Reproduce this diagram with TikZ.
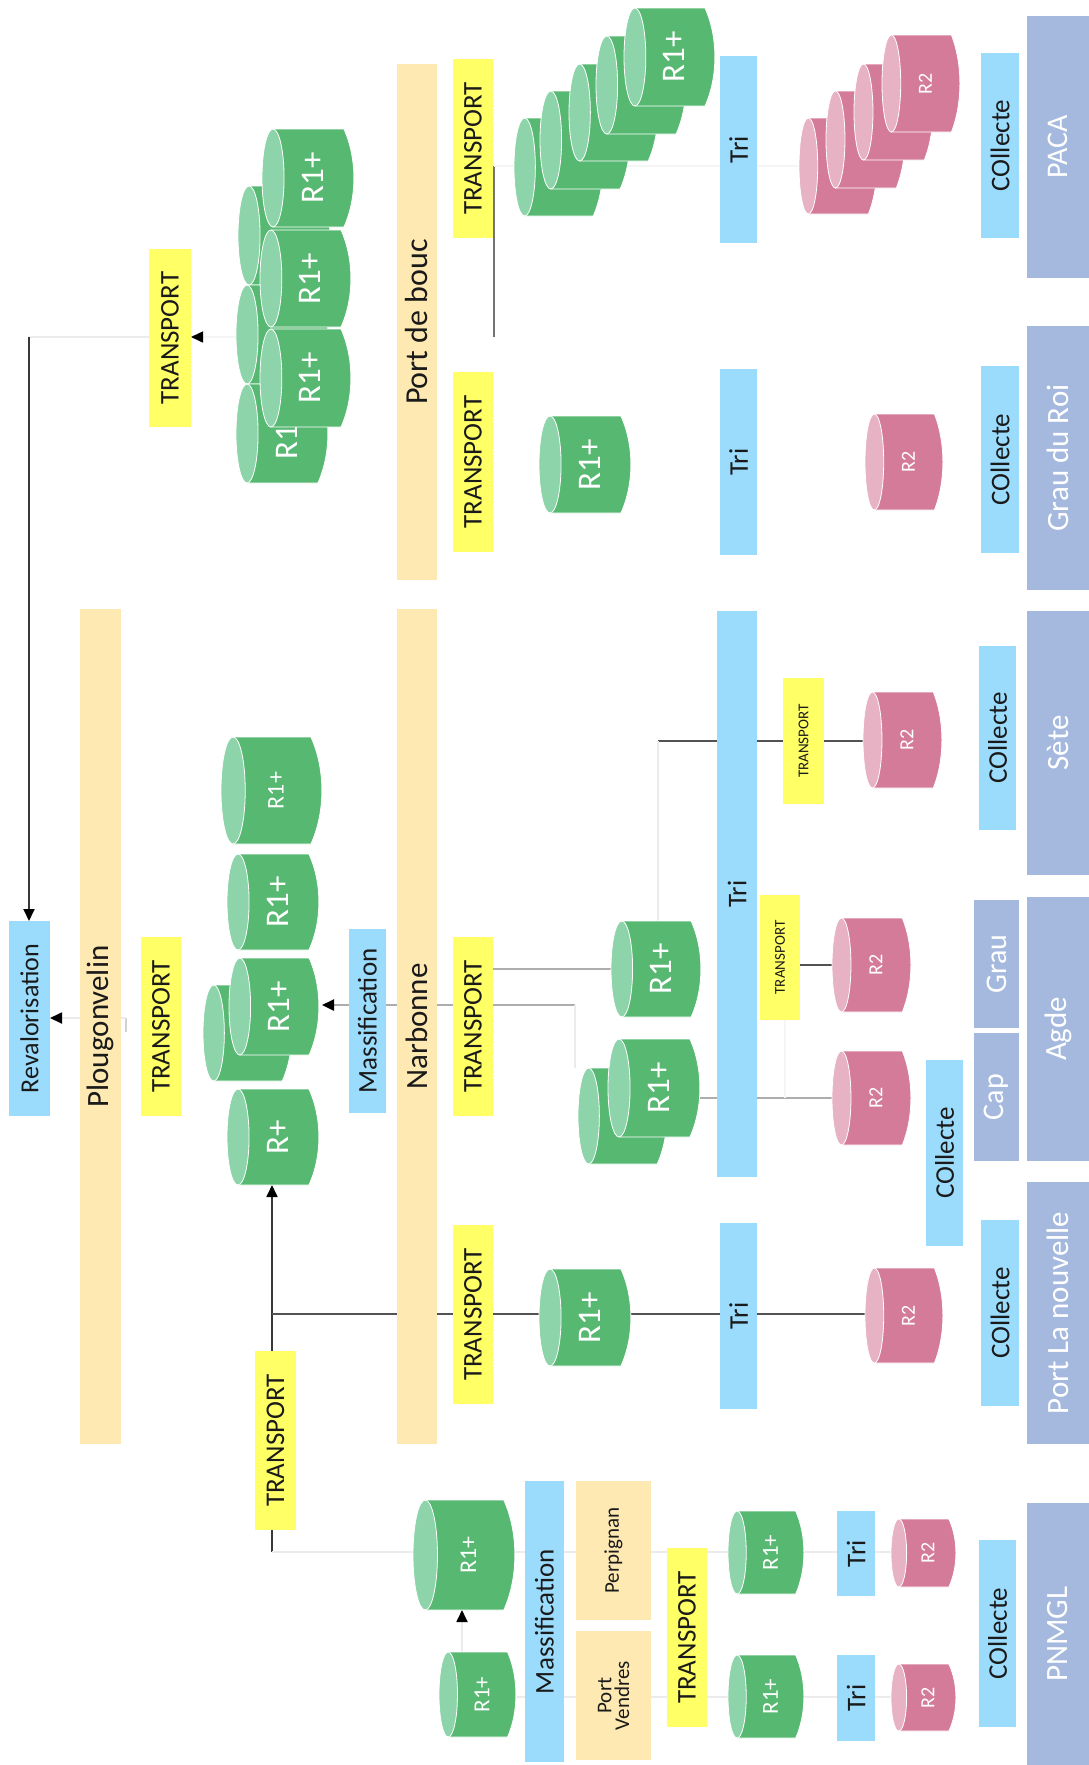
\documentclass[tikz,border=0pt]{standalone}
\usepackage{graphicx}
\usepackage{fontspec}
\setmainfont{Carlito}
\usetikzlibrary{arrows.meta}
\definecolor{gbody}{HTML}{56B871}
\definecolor{glight}{HTML}{8DD4AA}
\definecolor{pbody}{HTML}{D47B9A}
\definecolor{plight}{HTML}{E7B2C4}
\definecolor{blueb}{HTML}{9BDCFD}
\definecolor{yellowb}{HTML}{FFFF66}
\definecolor{creamb}{HTML}{FDE9B1}
\definecolor{slateb}{HTML}{A5B9DE}
\definecolor{txt}{HTML}{1A1A1A}
\pgfdeclarelayer{back}
\pgfsetlayers{back,main}
\tikzset{
  boxbase/.style={draw=none,inner sep=0pt,outer sep=0pt,text=txt},
  yellowbox/.style={boxbase,fill=yellowb},
  bluebox/.style={boxbase,fill=blueb},
  creambox/.style={boxbase,fill=creamb},
  slatebox/.style={boxbase,fill=slateb,text=white},
  cyltext/.style={inner sep=0pt,outer sep=0pt,text=white},
  cylskin/.style={draw=white,line width=0.8pt},
  linedark/.style={draw=black!68,line width=2.8pt},
  linethin/.style={draw=black!78,line width=1.8pt},
  linegrey/.style={draw=black!55,line width=1.3pt},
  linemid/.style={draw=black!32,line width=2.4pt},
  linesoft/.style={draw=black!18,line width=1.5pt},
  linepale/.style={draw=black!8,line width=1.8pt},
  linefaint/.style={draw=black!4,line width=1.5pt},
  headed/.style={-{Triangle[length=12pt,width=11pt,black]}},
}
\newcommand{\bx}[8]{%
  \pgfmathsetmacro\bxc{(#2+#4)/2}%
  \pgfmathsetmacro\byc{(#3+#5)/2}%
  \pgfmathsetmacro\bxw{#4-#2}%
  \pgfmathsetmacro\bxh{#5-#3}%
  \node[#6,minimum width=\bxw pt,minimum height=\bxh pt] (#1) at (\bxc,\byc)
    {\fontsize{#7pt}{#7pt}\selectfont\rotatebox{90}{#8}};%
}
\newcommand{\cyl}[8]{%
  \pgfmathsetmacro\cw{#4-#2}%
  \pgfmathsetmacro\crx{0.12*\cw}%
  \pgfmathsetmacro\ccl{#2+\crx}%
  \pgfmathsetmacro\cb{#4-0.11*\cw}%
  \pgfmathsetmacro\cc{#4+0.035*\cw}%
  \pgfmathsetmacro\cym{(#3+#5)/2}%
  \pgfmathsetmacro\cry{(#5-#3)/2}%
  \pgfmathsetmacro\cq{#3+0.3*(#5-#3)}%
  \pgfmathsetmacro\cr{#3+0.7*(#5-#3)}%
  \pgfmathsetmacro\cmx{(#2+#4)/2}%
  \pgfmathsetmacro\ch{#5-#3}%
  \path[cylskin,fill=#6body] (\ccl,#3) -- (\cb,#3) .. controls (\cc,\cq) and (\cc,\cr) .. (\cb,#5) -- (\ccl,#5) -- cycle;
  \path[cylskin,fill=#6light] (\ccl,\cym) ellipse [x radius=\crx pt,y radius=\cry pt];
  \node[cyltext,minimum width=\cw pt,minimum height=\ch pt] (#1) at (\cmx,\cym)
    {\hspace*{9pt}\fontsize{#7pt}{#7pt}\selectfont\rotatebox{90}{#8}};%
}
\begin{document}
\begin{tikzpicture}[x=1pt,y=-1pt]
\useasboundingbox (0,0) rectangle (1089,1765);
% regions
\bx{paca}{1027}{16}{1089}{278}{slatebox}{30}{PACA}
\bx{gdr}{1027}{326}{1089}{590}{slatebox}{31}{Grau du Roi}
\bx{sete}{1027}{611}{1089}{875}{slatebox}{31}{Sète}
\bx{agde}{1027}{897}{1089}{1161}{slatebox}{31}{Agde}
\bx{pln}{1027}{1182}{1089}{1444}{slatebox}{31}{Port La nouvelle}
\bx{pnmgl}{1027}{1503}{1089}{1765}{slatebox}{31}{PNMGL}
\bx{grau}{974}{900}{1019}{1028}{slatebox}{30}{Grau}
\bx{cap}{974}{1033}{1019}{1161}{slatebox}{30}{Cap}
% collecte
\bx{colpaca}{981}{53}{1019}{238}{bluebox}{27}{COllecte}
\bx{colgdr}{981}{366}{1019}{553}{bluebox}{27}{COllecte}
\bx{colsete}{979}{646}{1016}{830}{bluebox}{27}{COllecte}
\bx{colcap}{926}{1060}{963}{1246}{bluebox}{27}{COllecte}
\bx{colpln}{981}{1220}{1019}{1406}{bluebox}{27}{COllecte}
\bx{colpn}{979}{1540}{1016}{1727}{bluebox}{27}{COllecte}
% tri
\bx{tripaca}{720}{56}{757}{243}{bluebox}{27}{Tri}
\bx{trigdr}{720}{369}{757}{555}{bluebox}{27}{Tri}
\bx{trimain}{717}{611}{757}{1177}{bluebox}{27}{Tri}
\bx{tripln}{720}{1223}{757}{1409}{bluebox}{27}{Tri}
\bx{triperp}{837}{1511}{875}{1596}{bluebox}{27}{Tri}
\bx{trivend}{837}{1655}{875}{1741}{bluebox}{27}{Tri}
% transport
\bx{ttop}{149}{249}{191}{427}{yellowbox}{27}{TRANSPORT}
\bx{tpaca}{453}{59}{493}{238}{yellowbox}{27}{TRANSPORT}
\bx{tgdr}{453}{372}{493}{552}{yellowbox}{27}{TRANSPORT}
\bx{tplou}{141}{937}{181}{1116}{yellowbox}{27}{TRANSPORT}
\bx{tnarb}{453}{937}{493}{1116}{yellowbox}{27}{TRANSPORT}
\bx{tpln}{453}{1225}{493}{1404}{yellowbox}{27}{TRANSPORT}
\bx{tleft}{255}{1351}{296}{1530}{yellowbox}{27}{TRANSPORT}
\bx{tpn}{667}{1548}{707}{1727}{yellowbox}{27}{TRANSPORT}
\bx{tsete}{783}{678}{824}{804}{yellowbox}{15}{TRANSPORT}
\bx{tagde}{760}{895}{800}{1020}{yellowbox}{15}{TRANSPORT}
% places
\bx{portbouc}{397}{64}{437}{580}{creambox}{32}{Port de bouc}
\bx{narbonne}{397}{609}{437}{1444}{creambox}{31}{Narbonne}
\bx{plou}{80}{609}{121}{1444}{creambox}{31}{Plougonvelin}
\bx{perp}{576}{1481}{651}{1620}{creambox}{21}{Perpignan}
\bx{vend}{576}{1631}{651}{1760}{creambox}{21}{\shortstack{Port\\Vendres}}
% others
\bx{reval}{9}{921}{50}{1116}{bluebox}{26}{Revalorisation}
\bx{massa}{349}{929}{386}{1113}{bluebox}{27}{Massification}
\bx{massb}{525}{1481}{564}{1762}{bluebox}{27}{Massification}
% cylinders PACA
\cyl{gp5}{514}{118}{603}{216}{g}{33}{}
\cyl{gp4}{540}{91}{630}{189}{g}{33}{}
\cyl{gp3}{569}{64}{658}{161}{g}{33}{}
\cyl{gp2}{596}{36}{686}{134}{g}{33}{}
\cyl{gp1}{624}{8}{715}{106}{g}{33}{R1+}
\cyl{rp4}{799}{118}{877}{214}{p}{20}{}
\cyl{rp3}{826}{91}{905}{188}{p}{20}{}
\cyl{rp2}{854}{64}{933}{160}{p}{20}{}
\cyl{rp1}{882}{35}{960}{132}{p}{20}{R2}
% top group
\cyl{gt1}{238}{186}{330}{285}{g}{33}{}
\cyl{gt2}{236}{285}{328}{384}{g}{33}{}
\cyl{gt3}{236}{384}{328}{483}{g}{33}{R1+}
\cyl{gf1}{262}{129}{354}{227}{g}{33}{R1+}
\cyl{gf2}{260}{230}{351}{327}{g}{33}{R1+}
\cyl{gf3}{260}{329}{351}{427}{g}{33}{R1+}
% Grau du Roi
\cyl{ggdr}{539}{416}{631}{513}{g}{33}{R1+}
\cyl{rgdr}{865}{414}{943}{510}{p}{20}{R2}
% Plougonvelin group
\cyl{gm1}{221}{737}{322}{844}{g}{24}{R1+}
\cyl{gm2}{227}{854}{319}{950}{g}{33}{R1+}
\cyl{gm4}{203}{985}{292}{1081}{g}{33}{}
\cyl{gm3}{229}{958}{319}{1055}{g}{33}{R1+}
\cyl{gm5}{227}{1089}{319}{1185}{g}{33}{R+}
% Narbonne
\cyl{gn1}{611}{921}{701}{1017}{g}{33}{R1+}
\cyl{gn3}{578}{1068}{667}{1164}{g}{33}{}
\cyl{gn2}{608}{1039}{700}{1137}{g}{33}{R1+}
\cyl{rsete}{863}{692}{942}{788}{p}{20}{R2}
\cyl{ragdea}{832}{918}{911}{1012}{p}{20}{R2}
\cyl{ragdeb}{832}{1051}{911}{1145}{p}{20}{R2}
% PLN
\cyl{gpln}{539}{1269}{631}{1366}{g}{33}{R1+}
\cyl{rpln}{865}{1268}{943}{1363}{p}{20}{R2}
% PNMGL
\cyl{gbig}{413}{1500}{515}{1610}{g}{24}{R1+}
\cyl{gsmall}{439}{1652}{516}{1737}{g}{23}{R1+}
\cyl{gperp}{728}{1511}{804}{1594}{g}{23}{R1+}
\cyl{gvend}{728}{1655}{804}{1738}{g}{23}{R1+}
\cyl{rperp}{891}{1519}{956}{1587}{p}{20}{R2}
\cyl{rvend}{891}{1664}{956}{1731}{p}{20}{R2}
% free ends of connectors
\coordinate (jtop) at (29,337);
\coordinate (jpaca) at (494,166);
\coordinate (jpacb) at (494,337);
\coordinate (jsete) at (658,741);
\coordinate (jnarb) at (575,1005);
\coordinate (jnarbb) at (575,1068);
\coordinate (jagde) at (785,1098);
\coordinate (jplou) at (126,1018);
\coordinate (jploub) at (126,1032);
\coordinate (jleft) at (272,1552);
\coordinate (jpln) at (272,1314);
\coordinate (jvend) at (517,1697);
\coordinate (jarr) at (462,1652);
\begin{pgfonlayer}{back}
  \draw[linepale] (ttop.west |- jtop) -- (jtop);
  \draw[linethin,headed] (jtop) -- (reval.north -| jtop);
  \draw[linefaint,headed] (gt2.west |- jtop) -- (ttop.east |- jtop);
  \draw[linegrey] (jpaca) -- (jpacb);
  \draw[linefaint] (jpaca) -- (rp4.west |- jpaca);
  \draw[linedark] (jsete) -- (rsete.west |- jsete);
  \draw[linepale] (jsete) -- (gn1.north -| jsete);
  \draw[linemid] (tnarb.east |- gn1.west) -- (gn1.west);
  \draw[linemid,headed,shorten >=3pt] (jnarb) -- (gm3.east |- jnarb);
  \draw[linepale] (jnarb) -- (jnarbb);
  \draw[linemid] (gn2.east |- jagde) -- (ragdeb.west |- jagde);
  \draw[linefaint] (tagde.south -| jagde) -- (jagde);
  \draw[linedark] (tagde.east |- ragdea.west) -- (ragdea.west);
  \draw[linesoft] (jploub) -- (jplou);
  \draw[linepale,headed] (jplou) -- (reval.east |- jplou);
  \draw[linethin,headed] (jleft) -- (gm5.south -| jleft);
  \draw[linedark] (jpln) -- (rpln.west |- jpln);
  \draw[linepale] (jleft) -- (rperp.west |- jleft);
  \draw[linepale] (jvend) -- (rvend.west |- jvend);
  \draw[linepale,headed] (jarr) -- (gbig.south -| jarr);
\end{pgfonlayer}
\end{tikzpicture}
\end{document}
